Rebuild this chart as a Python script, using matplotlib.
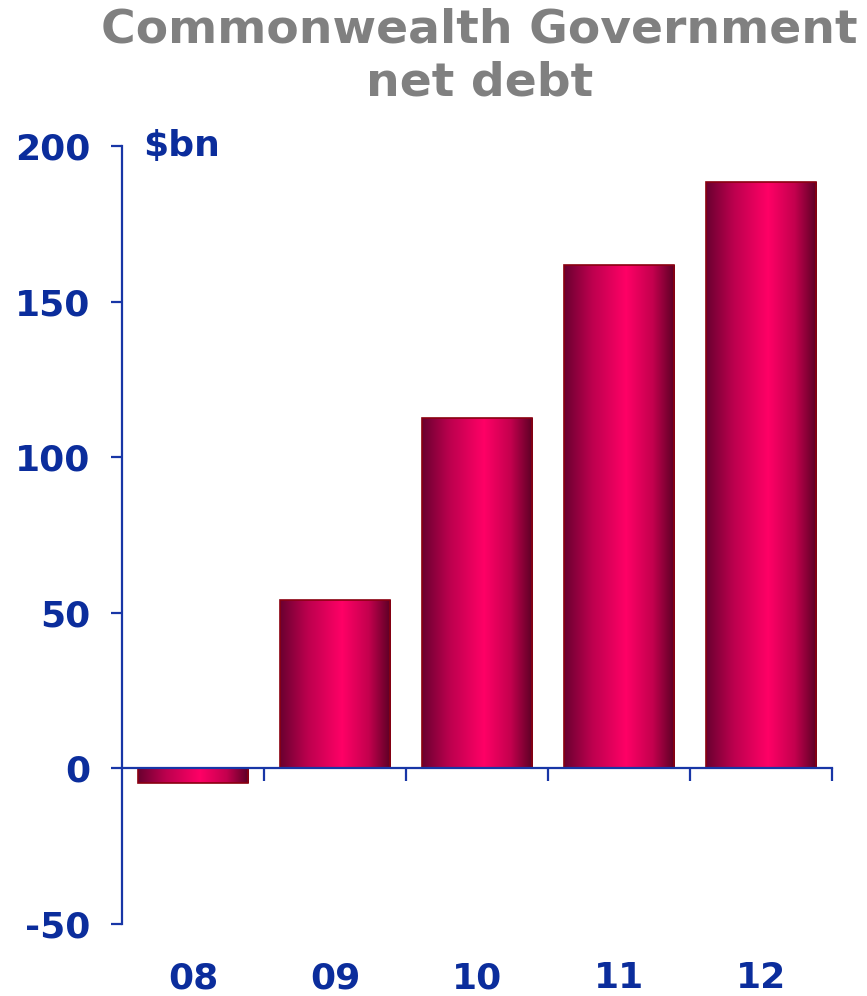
import numpy as np
import matplotlib
matplotlib.use("Agg")
import matplotlib.pyplot as plt
from matplotlib.colors import LinearSegmentedColormap

# Commonwealth Government net debt, $bn, by financial year
years = ["08", "09", "10", "11", "12"]
net_debt = [-4.7, 54.0, 112.5, 161.7, 188.4]
y_ticks = [-50, 0, 50, 100, 150, 200]

BLUE = "#0b2d9c"
AXIS_BLUE = "#1836a6"
GREY = "#808080"

plt.rcParams["font.family"] = ["DejaVu Sans"]

fig = plt.figure(figsize=(8.67, 9.96), dpi=100)
ax = fig.add_axes([0.1407, 0.0723, 0.8189, 0.7811])

x = np.arange(len(years))
bars = ax.bar(x, net_debt, width=0.775, facecolor="none",
              edgecolor="#8a0010", linewidth=1.2, zorder=3)

# cylindrical shading: dark edges, bright crimson just right of centre
shade = LinearSegmentedColormap.from_list(
    "crimson_tube",
    [(0.0, "#6a0030"), (0.25, "#bc004e"), (0.56, "#ff0066"),
     (0.80, "#c4004e"), (1.0, "#5a0024")])
grad = np.linspace(0, 1, 256).reshape(1, -1)
for b in bars:
    x0, w = b.get_x(), b.get_width()
    y0, h = b.get_y(), b.get_height()
    im = ax.imshow(grad, cmap=shade, aspect="auto",
                   extent=(x0, x0 + w, min(y0, y0 + h), max(y0, y0 + h)),
                   zorder=2, interpolation="bilinear")
    im.set_clip_path(b)

ax.set_xlim(-0.5, len(years) - 0.5)
ax.set_ylim(-50, 200)

# axes: left spine full height, horizontal axis drawn at zero
for s in ("top", "right"):
    ax.spines[s].set_visible(False)
ax.spines["left"].set_color(AXIS_BLUE)
ax.spines["left"].set_linewidth(1.6)
ax.spines["bottom"].set_position(("data", 0))
ax.spines["bottom"].set_color(AXIS_BLUE)
ax.spines["bottom"].set_linewidth(1.6)
ax.spines["bottom"].set_zorder(4)

ax.set_yticks(y_ticks)
ax.set_yticklabels([str(v) for v in y_ticks])
ax.tick_params(axis="y", direction="out", length=8, width=1.6,
               color=AXIS_BLUE, labelcolor=BLUE, labelsize=26, pad=15)
for lab in ax.get_yticklabels():
    lab.set_fontweight("bold")

# boundary ticks hang below the zero line
ax.set_xticks(x + 0.5, minor=True)
ax.set_xticks([])
ax.tick_params(axis="x", which="minor", direction="out", length=9,
               width=1.6, color=AXIS_BLUE)

# year labels along the bottom of the plot area
sec = ax.secondary_xaxis("bottom")
sec.spines["bottom"].set_visible(False)
sec.set_xticks(x)
sec.set_xticklabels(years)
sec.tick_params(axis="x", length=0, pad=27, labelcolor=BLUE, labelsize=26)
for lab in sec.get_xticklabels():
    lab.set_fontweight("bold")

ax.text(0.03, 200, "$bn", transform=ax.get_yaxis_transform(),
        ha="left", va="center", color=BLUE, fontsize=26, fontweight="bold")

fig.text(0.553, 0.943, "Commonwealth Government\nnet debt", ha="center",
         va="center", color=GREY, fontsize=34, fontweight="bold",
         linespacing=1.22)

fig.savefig("out.png", dpi=100, facecolor="white")
